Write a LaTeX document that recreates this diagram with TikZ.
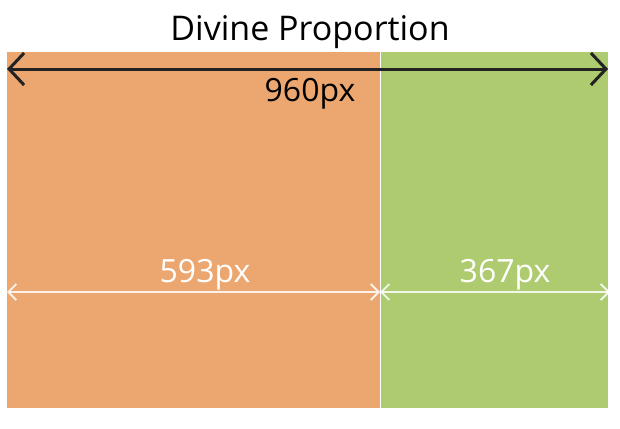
\documentclass[tikz,border=0pt]{standalone}
\usepackage{fontspec}
\setmainfont{Open Sans}
\usetikzlibrary{arrows.meta}
\definecolor{orangebox}{RGB}{236,167,112}
\definecolor{greenbox}{RGB}{174,203,112}
\definecolor{darkline}{RGB}{34,34,34}
\tikzset{
  blackdim/.style={draw=darkline, line width=3pt, {Straight Barb[length=15pt,width=32pt,line width=3pt]}-{Straight Barb[length=15pt,width=32pt,line width=3pt]}},
  whitedim/.style={draw=white, draw opacity=0.85, line width=1.8pt, {Straight Barb[length=8pt,width=16pt,line width=1.8pt]}-{Straight Barb[length=8pt,width=16pt,line width=1.8pt]}},
  lbl/.style={inner sep=0pt, anchor=base},
}
\begin{document}
\begin{tikzpicture}[x=1pt,y=-1pt]
\useasboundingbox (0,0) rectangle (620,428);
\fill[white] (0,0) rectangle (620,428);
% boxes
\fill[orangebox] (7,52) rectangle (380,408);
\fill[greenbox] (381,52) rectangle (608,408);
\draw[white, line width=1.5pt] (380.5,52) -- (380.5,408);
% title
\node[lbl, font=\fontsize{34}{40}\selectfont, text=black] (title) at (310,41) {Divine Proportion};
% total dimension
\coordinate (tl) at (7,69);
\coordinate (tr) at (608,69);
\draw[blackdim] (tl) -- (tr);
\node[lbl, font=\fontsize{32}{38}\selectfont, text=black] (total) at (310,101) {960px};
% part dimensions
\coordinate (al) at (7,292);
\coordinate (am) at (380,292);
\coordinate (ar) at (610,292);
\draw[whitedim] (al) -- (am);
\draw[whitedim] (am) -- (ar);
\node[lbl, font=\fontsize{32}{38}\selectfont, text=white] (big) at (205,282) {593px};
\node[lbl, font=\fontsize{32}{38}\selectfont, text=white] (small) at (505,282) {367px};
\end{tikzpicture}
\end{document}
